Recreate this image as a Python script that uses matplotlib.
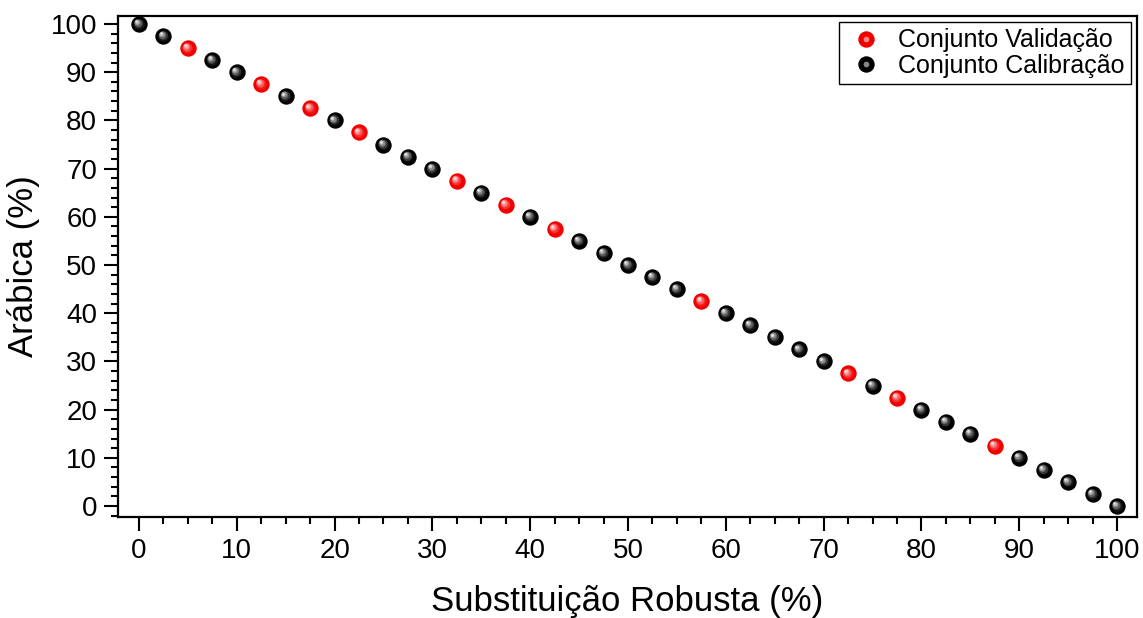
import numpy as np
import matplotlib.pyplot as plt
import matplotlib.transforms as mtransforms
from matplotlib.ticker import MultipleLocator
from matplotlib.legend_handler import HandlerTuple

plt.rcParams['font.family'] = ['Liberation Sans', 'DejaVu Sans']

# Data
val_x = [5, 12.5, 17.5, 22.5, 32.5, 37.5, 42.5, 57.5, 72.5, 77.5, 87.5]
val_y = [95, 87.5, 82.5, 77.5, 67.5, 62.5, 57.5, 42.5, 27.5, 22.5, 12.5]
cal_x = [0, 2.5, 7.5, 10, 15, 20, 25, 27.5, 30, 35, 40, 45, 47.5, 50, 52.5,
         55, 60, 62.5, 65, 67.5, 70, 75, 80, 82.5, 85, 90, 92.5, 95, 97.5, 100]
cal_y = [100, 97.5, 92.5, 90, 85, 80, 75, 72.5, 70, 65, 60, 55, 52.5, 50, 47.5,
         45, 40, 37.5, 35, 32.5, 30, 25, 20, 17.5, 15, 10, 7.5, 5, 2.5, 0]

fig = plt.figure(figsize=(11.43, 6.18), dpi=100)
ax = fig.add_axes([0.1032, 0.1634, 0.8916, 0.8107])

ms = 11.8


def sphere(x, y, base, light):
    """draw shaded ball markers: base disc plus shrinking lighter discs"""
    h, = ax.plot(x, y, 'o', ms=ms, color=base, mew=0, zorder=3)
    parts = [h]
    n = 6
    for i in range(1, n + 1):
        f = i / n
        c = tuple(b + (l - b) * f ** 1.3 for b, l in zip(base, light))
        tr = mtransforms.offset_copy(ax.transData, fig=fig,
                                     x=-2.8 * f, y=2.8 * f, units='dots')
        p, = ax.plot(x, y, 'o', ms=ms * (0.75 - 0.6 * f), color=c, mew=0,
                     transform=tr, zorder=3 + i)
        if i == 4:
            parts.append(p)
    return tuple(parts)


h_val = sphere(val_x, val_y, (0.95, 0.0, 0.0), (1.0, 0.9, 0.9))
h_cal = sphere(cal_x, cal_y, (0.0, 0.0, 0.0), (0.9, 0.9, 0.9))

ax.set_xlim(-2.15, 102.05)
ax.set_ylim(-2.28, 101.66)
ax.xaxis.set_major_locator(MultipleLocator(10))
ax.xaxis.set_minor_locator(MultipleLocator(2.5))
ax.yaxis.set_major_locator(MultipleLocator(10))
ax.yaxis.set_minor_locator(MultipleLocator(2))
ax.tick_params(which='major', direction='out', length=10, width=1.5,
               labelsize=20, pad=5)
ax.tick_params(which='minor', direction='out', length=5, width=1.5)
for s in ax.spines.values():
    s.set_linewidth(1.6)

ax.set_xlabel('Substituição Robusta (%)', fontsize=25, labelpad=15)
ax.set_ylabel('Arábica (%)', fontsize=25, labelpad=8)

leg = ax.legend([h_val, h_cal], ['Conjunto Validação', 'Conjunto Calibração'],
                handler_map={tuple: HandlerTuple(ndivide=1, pad=0)},
                loc='upper right', bbox_to_anchor=(0.994, 0.988),
                borderaxespad=0, fontsize=18, fancybox=False,
                framealpha=1, edgecolor='black', handletextpad=0.5,
                borderpad=0.25, labelspacing=0.05, handlelength=1.6)
leg.get_frame().set_linewidth(1.0)

fig.savefig('out.png', dpi=100)
